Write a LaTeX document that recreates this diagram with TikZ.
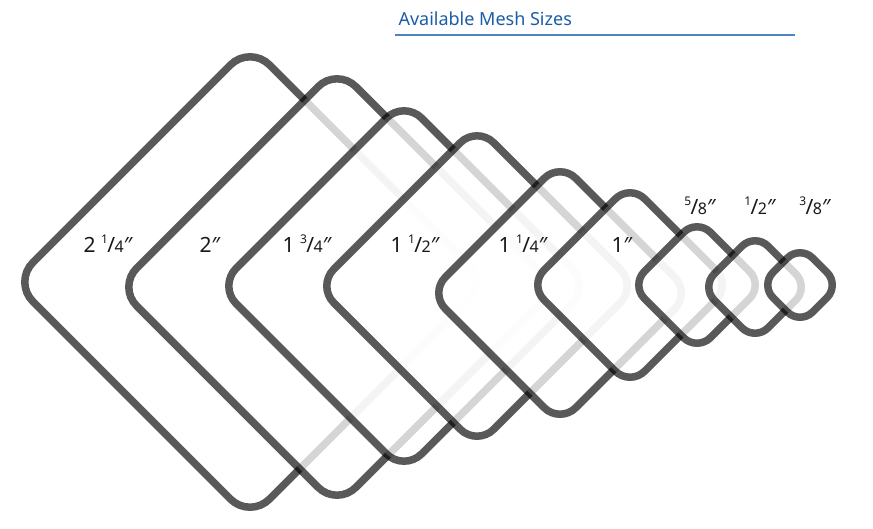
\documentclass[tikz,border=0pt]{standalone}
\usepackage{fontspec}
\setmainfont{Noto Sans}
\usepackage{tikz}
\usetikzlibrary{positioning}
\definecolor{titleblue}{RGB}{28,92,166}
\definecolor{ruleblue}{RGB}{78,132,196}
\definecolor{inkgray}{RGB}{25,25,25}
\newcommand{\meshfrac}[2]{\raisebox{0.42em}{\fontsize{12}{12}\selectfont#1}\kern-0.6pt/\kern-0.4pt{\fontsize{16}{16}\selectfont#2}}

\begin{document}
\begin{tikzpicture}[x=1pt,y=-1pt,
  mesh/.style={rectangle,draw=black,draw opacity=0.65,fill=white,fill opacity=0.75,
    line width=7.5pt,rotate=45,inner sep=0pt,outer sep=0pt},
  size/.style={anchor=base,text=inkgray,font=\fontsize{21}{21}\selectfont},
  title/.style={anchor=base west,text=titleblue,font=\fontsize{18}{18}\selectfont},
  rule/.style={draw=ruleblue,line width=1.6pt},
]
  \useasboundingbox (0,0) rectangle (873,528);
  % squares, largest first
  \node[mesh,minimum size=334.6pt,rounded corners=27.5pt] (m1) at (250,282) {};
  \node[mesh,minimum size=310.0pt,rounded corners=26.6pt] (m2) at (337,287) {};
  \node[mesh,minimum size=262.4pt,rounded corners=25.0pt] (m3) at (404,286) {};
  \node[mesh,minimum size=226.3pt,rounded corners=23.7pt] (m4) at (477,286) {};
  \node[mesh,minimum size=184.5pt,rounded corners=22.3pt] (m5) at (560,293) {};
  \node[mesh,minimum size=142.6pt,rounded corners=20.8pt] (m6) at (630,285) {};
  \node[mesh,minimum size=93.5pt,rounded corners=19.1pt]  (m7) at (697,285) {};
  \node[mesh,minimum size=76.2pt,rounded corners=18.5pt]  (m8) at (755,287) {};
  \node[mesh,minimum size=56.0pt,rounded corners=17.8pt]  (m9) at (800,285) {};
  % labels
  \node[size] (s1) at (108,252) {2 \meshfrac{1}{4}″};
  \node[size] (s2) at (210,252) {2″};
  \node[size] (s3) at (307,252) {1 \meshfrac{3}{4}″};
  \node[size] (s4) at (415,252) {1 \meshfrac{1}{2}″};
  \node[size] (s5) at (523,252) {1 \meshfrac{1}{4}″};
  \node[size] (s6) at (622,252) {1″};
  \node[size] (s7) at (700,214) {\meshfrac{5}{8}″};
  \node[size] (s8) at (760,214) {\meshfrac{1}{2}″};
  \node[size] (s9) at (815,214) {\meshfrac{3}{8}″};
  % heading
  \node[title] (ttl) at (395,25) {Available Mesh Sizes};
  \coordinate (ruleA) at (395,35);
  \coordinate (ruleB) at (795,35);
  \draw[rule] (ruleA) -- (ruleB);
\end{tikzpicture}
\end{document}
